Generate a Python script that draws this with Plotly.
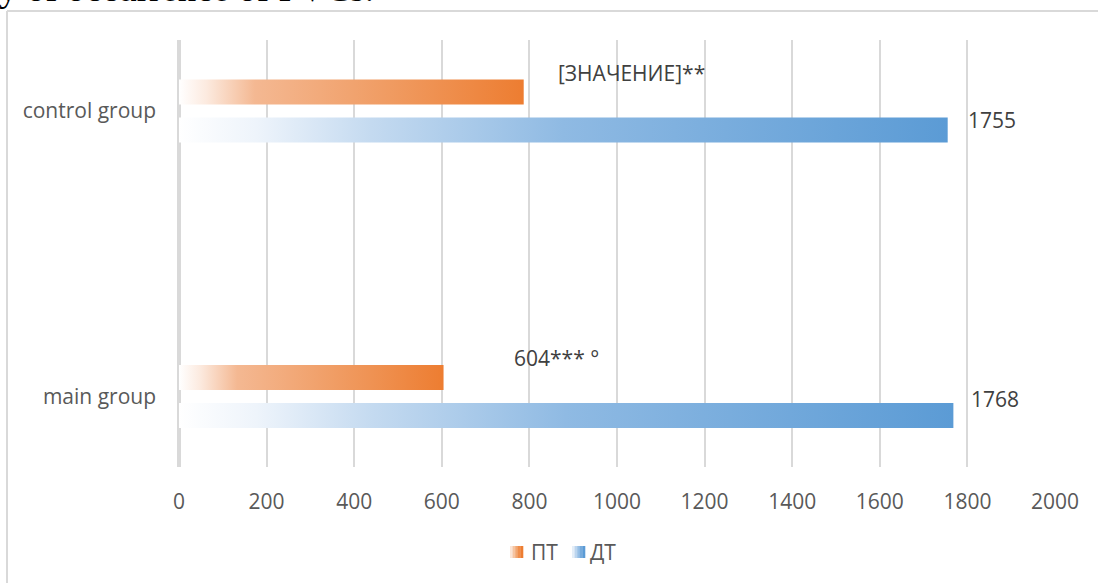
import plotly.graph_objects as go

# Chart data
groups = ["main group", "control group"]
series_names = ["ПТ", "ДТ"]
pt_values = [604, 787]
dt_values = [1768, 1755]
pt_labels = ["604*** °", "[ЗНАЧЕНИЕ]**"]
dt_labels = ["1768", "1755"]
x_ticks = [0, 200, 400, 600, 800, 1000, 1200, 1400, 1600, 1800, 2000]

TEXT = "#595959"
GRID = "#D9D9D9"
FONT = "Open Sans"
PT_COLOR = "#ED7D31"
DT_COLOR = "#5B9BD5"

# gradient colour stops (light at the axis, full colour at the bar end)
pt_scale = [[0.0, "rgba(255,255,255,1)"], [0.08, "#FCEADF"], [0.22, "#F4B892"],
            [0.6, "#F09C63"], [1.0, PT_COLOR]]
dt_scale = [[0.0, "rgba(255,255,255,1)"], [0.1, "#EEF4FB"], [0.25, "#C4DAF0"],
            [0.5, "#8FBAE3"], [1.0, DT_COLOR]]

BAR_H = 0.088   # bar thickness in category units
OFFSET = 0.0665  # distance of each bar from the category centre

# plot-area geometry in pixels, used to place items outside the axes
L, R, T, B = 179, 1055, 40, 467


def px(xp):
    return (xp - L) / (R - L)


def py(yp):
    return (B - yp) / (B - T)


fig = go.Figure()


def add_bar(value, yc, scale, name):
    y0, y1 = yc - BAR_H / 2, yc + BAR_H / 2
    fig.add_trace(go.Scatter(
        x=[0, value, value, 0, 0],
        y=[y0, y0, y1, y1, y0],
        mode="none",
        fill="toself",
        fillgradient=dict(type="horizontal", colorscale=scale, start=0, stop=value),
        name=name,
        showlegend=False,
        hoverinfo="skip",
    ))


for i, g in enumerate(groups):
    add_bar(pt_values[i], i + OFFSET, pt_scale, series_names[0])
    add_bar(dt_values[i], i - OFFSET, dt_scale, series_names[1])

# value labels
label_font = dict(family=FONT, size=21, color="#404040")
fig.add_annotation(x=pt_values[0], y=0 + OFFSET, text=pt_labels[0], showarrow=False,
                   xanchor="left", xshift=68, yshift=20, font=label_font)
fig.add_annotation(x=pt_values[1], y=1 + OFFSET, text=pt_labels[1], showarrow=False,
                   xanchor="left", xshift=32, yshift=19, font=label_font)
fig.add_annotation(x=dt_values[0], y=0 - OFFSET, text=dt_labels[0], showarrow=False,
                   xanchor="left", xshift=16, yshift=17, font=label_font)
fig.add_annotation(x=dt_values[1], y=1 - OFFSET, text=dt_labels[1], showarrow=False,
                   xanchor="left", xshift=18, yshift=10, font=label_font)

# legend: small gradient keys followed by the series names
key_strips = {
    "ПТ": ["#FBE5D6", "#F6C4A1", "#F2A772", "#EF8E4C", "#ED7D31"],
    "ДТ": ["#E4EEF8", "#BCD5EE", "#97BFE5", "#77ABDC", "#5B9BD5"],
}
key_left = {"ПТ": 510, "ДТ": 572}
text_left = {"ПТ": 530, "ДТ": 589}
for name in series_names:
    strips = key_strips[name]
    w = 13 / len(strips)
    for k, col in enumerate(strips):
        x0 = key_left[name] + k * w
        fig.add_shape(type="rect", xref="paper", yref="paper",
                      x0=px(x0), x1=px(x0 + w + 0.3), y0=py(558), y1=py(546),
                      line=dict(width=0), fillcolor=col, layer="above")
    fig.add_annotation(xref="paper", yref="paper", x=px(text_left[name]), y=py(552),
                       xanchor="left", yanchor="middle", showarrow=False, text=name,
                       font=dict(family=FONT, size=21, color=TEXT), borderpad=0)

# caption line above the chart frame
fig.add_annotation(xref="paper", yref="paper", x=px(-3), y=py(11),
                   xanchor="left", yanchor="bottom", showarrow=False,
                   text="y of occurrence of PVCs.",
                   font=dict(family="Liberation Serif", size=37, color="#000000"))

# chart frame (top and left edges)
fig.add_shape(type="line", xref="paper", yref="paper", x0=px(7), x1=px(1110),
              y0=py(11), y1=py(11), line=dict(color=GRID, width=2))
fig.add_shape(type="line", xref="paper", yref="paper", x0=px(7), x1=px(7),
              y0=py(11), y1=py(600), line=dict(color=GRID, width=2))

fig.update_layout(
    width=1098, height=583,
    margin=dict(l=L, r=1098 - R, t=T, b=583 - B),
    paper_bgcolor="white", plot_bgcolor="white",
    font=dict(family=FONT, size=21, color=TEXT),
    showlegend=False,
    xaxis=dict(range=[0, 2000], tickvals=x_ticks, showgrid=True, gridcolor=GRID,
               gridwidth=2, zeroline=True, zerolinecolor=GRID, zerolinewidth=4,
               showline=False, ticks="", ticklabelstandoff=20,
               tickfont=dict(family=FONT, size=21, color=TEXT)),
    yaxis=dict(range=[-0.2469, 1.2487], tickvals=[0, 1], ticktext=groups,
               showgrid=False, zeroline=False, showline=False, ticks="",
               ticklabelstandoff=22, tickfont=dict(family=FONT, size=21, color=TEXT)),
)

fig.write_html("out.html")
